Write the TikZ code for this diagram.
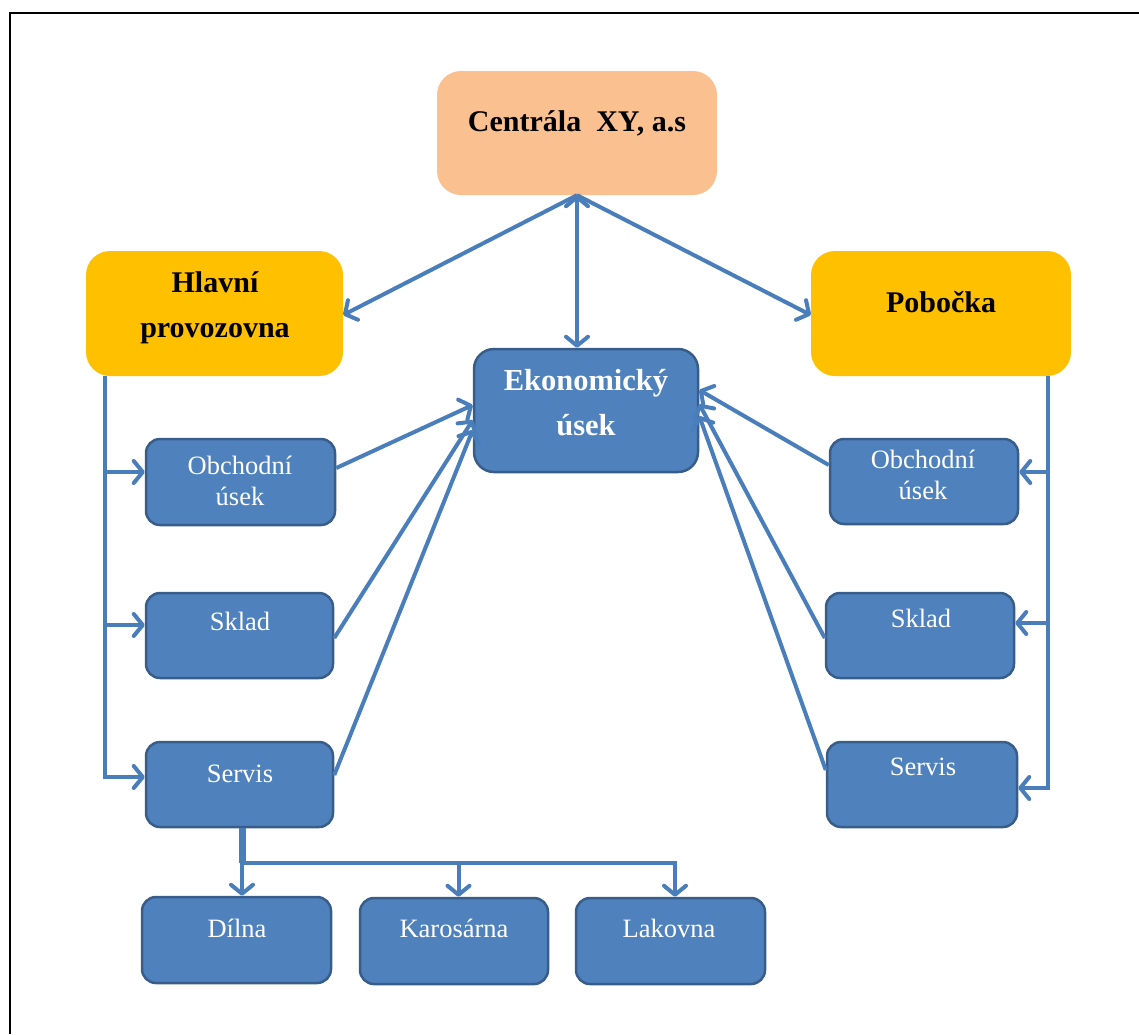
\documentclass[tikz,border=0pt]{standalone}
\usepackage{fontspec}
\setmainfont{Liberation Serif}
\usetikzlibrary{arrows.meta,calc}
\definecolor{peach}{HTML}{FAC090}
\definecolor{gold}{HTML}{FFC000}
\definecolor{bluef}{HTML}{4F81BD}
\definecolor{blueb}{HTML}{385D8A}
\definecolor{linec}{HTML}{4A7EBB}
\begin{document}
\begin{tikzpicture}[x=1pt,y=-1pt,
  bbox/.style={rounded corners=14pt, fill=bluef, draw=blueb, line width=2.5pt, inner sep=0pt},
  ekbox/.style={rounded corners=20pt, fill=bluef, draw=blueb, line width=2.5pt, inner sep=0pt},
  obox/.style={rounded corners=24pt, inner sep=0pt},
  ttop/.style={font=\fontsize{30}{45}\selectfont\bfseries, text=black, align=center, inner sep=0pt},
  teko/.style={font=\fontsize{30.5}{45}\selectfont\bfseries, text=white, align=center, inner sep=0pt},
  tsm/.style={font=\fontsize{26.5}{30.5}\selectfont, text=white, align=center, inner sep=0pt},
  conn/.style={draw=linec, line width=4pt},
  arr/.style={-{Straight Barb[length=9pt,width=22pt,round]}},
  darr/.style={{Straight Barb[length=9pt,width=22pt,round]}-{Straight Barb[length=9pt,width=22pt,round]}}
]
\useasboundingbox (0,0) rectangle (1139,1034);
\draw[line width=1.5pt] (10,1034) -- (10,13) -- (1139,13);

% boxes
\node[obox, fill=peach, minimum width=280pt, minimum height=124pt] (cen) at (577,133) {};
\node[obox, fill=gold, minimum width=257pt, minimum height=125pt] (hla) at (214.5,313.5) {};
\node[obox, fill=gold, minimum width=260pt, minimum height=125pt] (pob) at (941,313.5) {};
\node[ekbox, minimum width=224pt, minimum height=123pt] (eko) at (586,410.5) {};
\node[bbox, minimum width=189pt, minimum height=86pt] (obL) at (240.5,482) {};
\node[bbox, minimum width=187pt, minimum height=85pt] (skL) at (239.5,635.5) {};
\node[bbox, minimum width=187pt, minimum height=85pt] (svL) at (239.5,784.5) {};
\node[bbox, minimum width=188pt, minimum height=85pt] (obR) at (924,481.5) {};
\node[bbox, minimum width=188pt, minimum height=85pt] (skR) at (920,635.5) {};
\node[bbox, minimum width=190pt, minimum height=85pt] (svR) at (922,784.5) {};
\node[bbox, minimum width=189pt, minimum height=86pt] (dil) at (236.5,940) {};
\node[bbox, minimum width=188pt, minimum height=86pt] (kar) at (454,941) {};
\node[bbox, minimum width=189pt, minimum height=86pt] (lak) at (670.5,941) {};

% texts (base = baseline of last line)
\node[ttop, anchor=base] (cen-t) at (577,131) {Centrála~ XY, a.s};
\node[ttop, anchor=base] (hla-t) at (215,337) {Hlavní\\provozovna};
\node[ttop, anchor=base] (pob-t) at (941,312) {Pobočka};
\node[teko, anchor=base] (eko-t) at (586,435) {Ekonomický\\úsek};
\node[tsm, anchor=base] (obL-t) at (240,505) {Obchodní\\úsek};
\node[tsm, anchor=base] (skL-t) at (240,630) {Sklad};
\node[tsm, anchor=base] (svL-t) at (240,782) {Servis};
\node[tsm, anchor=base] (obR-t) at (923,499) {Obchodní\\úsek};
\node[tsm, anchor=base] (skR-t) at (921,627) {Sklad};
\node[tsm, anchor=base] (svR-t) at (923,775) {Servis};
\node[tsm, anchor=base] (dil-t) at (237,937) {Dílna};
\node[tsm, anchor=base] (kar-t) at (454,937) {Karosárna};
\node[tsm, anchor=base] (lak-t) at (669,937) {Lakovna};

% top connectors
\draw[conn, arr] (cen.south) -- ([yshift=-1.5pt]hla.east);
\draw[conn, arr] (cen.south) -- ([yshift=-1.5pt]pob.west);
\draw[conn, darr] (cen.south) -- (cen.south |- eko.north);

% left trunk
\coordinate (tL) at ([xshift=19pt]hla.south west);
\coordinate (aOL) at ([yshift=10pt]obL.west);
\coordinate (aSL) at ([yshift=10.5pt]skL.west);
\coordinate (aVL) at ([yshift=7.5pt]svL.west);
\draw[conn, arr] (tL) |- (aVL);
\draw[conn, arr] (tL |- aOL) -- (aOL);
\draw[conn, arr] (tL |- aSL) -- (aSL);

% right trunk
\coordinate (tR) at ([xshift=-23pt]pob.south east);
\coordinate (aOR) at ([yshift=9.5pt]obR.east);
\coordinate (aSR) at ([yshift=12.5pt]skR.east);
\coordinate (aVR) at ([yshift=-3.5pt]svR.east);
\draw[conn, arr] (tR) |- (aVR);
\draw[conn, arr] (tR |- aOR) -- (aOR);
\draw[conn, arr] (tR |- aSR) -- (aSR);

% small boxes to Ekonomicky usek
\draw[conn, arr] ([yshift=14pt]obL.east) -- ([yshift=5.5pt]eko.west);
\draw[conn, arr] ([yshift=-2.5pt]skL.east) -- ([yshift=-9.5pt]eko.west);
\draw[conn, arr] ([yshift=9.5pt]svL.east) -- ([yshift=-19.5pt]eko.west);
\draw[conn, arr] ([yshift=16.5pt]obR.west) -- ([yshift=20.5pt]eko.east);
\draw[conn, arr] ([yshift=-2.5pt]skR.west) -- ([yshift=6.5pt]eko.east);
\draw[conn, arr] ([yshift=14.5pt]svR.west) -- ([yshift=-5.5pt]eko.east);

% Servis to workshops
\coordinate (sv0) at ([xshift=2.5pt]svL.south);
\coordinate (jn) at ($(sv0)+(0,35)$);
\coordinate (aDil) at ([xshift=5.5pt]dil.north);
\coordinate (aKar) at ([xshift=4.5pt]kar.north);
\coordinate (aLak) at ([xshift=4.5pt]lak.north);
\draw[conn, line width=7pt] (sv0) -- (jn);
\draw[conn, arr] (jn) -- (jn -| aLak) -- (aLak);
\draw[conn, arr] (jn -| aKar) -- (aKar);
\draw[conn, arr] (jn) -- (aDil);
\end{tikzpicture}
\end{document}
